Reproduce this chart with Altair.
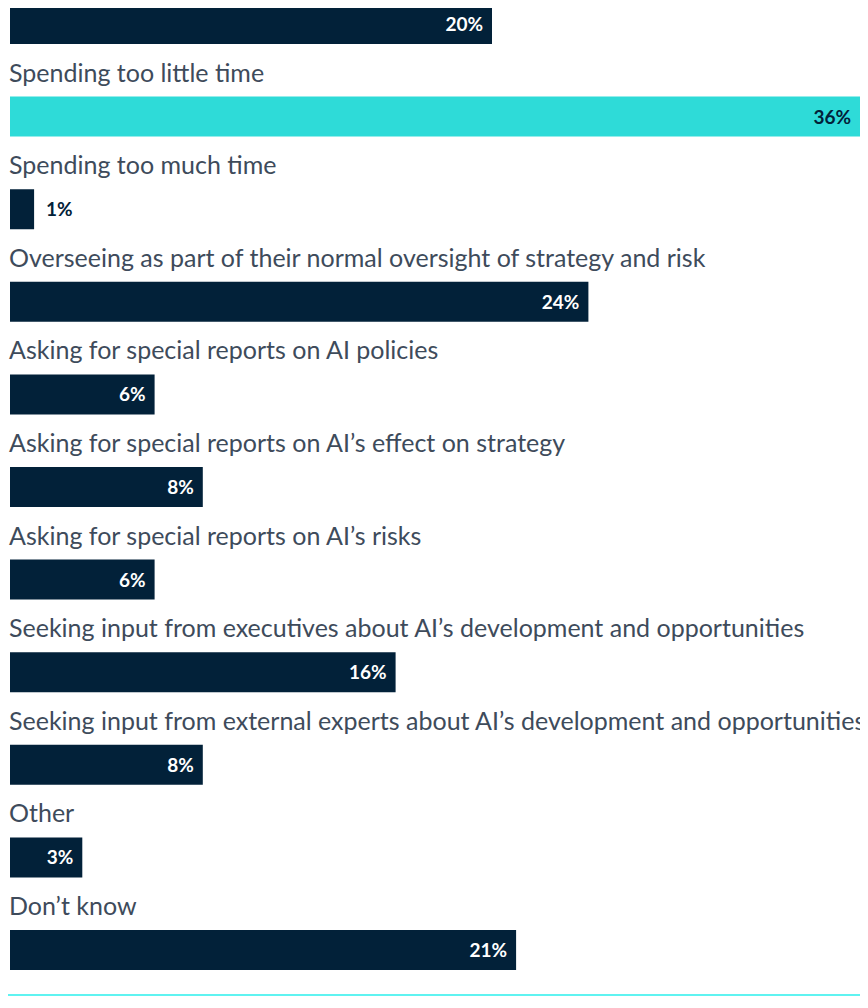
import altair as alt
import pandas as pd

categories = [
    "Spending the right amount of time",
    "Spending too little time",
    "Spending too much time",
    "Overseeing as part of their normal oversight of strategy and risk",
    "Asking for special reports on AI policies",
    "Asking for special reports on AI\u2019s effect on strategy",
    "Asking for special reports on AI\u2019s risks",
    "Seeking input from executives about AI\u2019s development and opportunities",
    "Seeking input from external experts about AI\u2019s development and opportunities",
    "Other",
    "Don\u2019t know",
]
values = [20, 36, 1, 24, 6, 8, 6, 16, 8, 3, 21]
highlight = "Spending too little time"

NAVY = "#022139"
CYAN = "#2EDBD8"
LABEL = "#3E4B5B"
LINE = "#5FF3F1"
FONT = "Lato"

df = pd.DataFrame({"cat": categories, "value": values})
df["label"] = df["value"].astype(str) + "%"
df["hl"] = df["cat"] == highlight

W, H = 852, 988
STEP = 92.6
Y0 = -30.3
PX = 24.1  # pixels per percent

y = alt.Y("cat:N", sort=categories, axis=None,
          scale=alt.Scale(range=[Y0, Y0 + STEP * len(categories)], paddingInner=0, paddingOuter=0))
x = alt.X("value:Q", axis=None, scale=alt.Scale(domain=[0, 36], range=[2, 2 + 36 * PX]))
xmax = (W - 2) / PX
x_text = alt.X("value:Q", axis=None,
               scale=alt.Scale(domain=[0, xmax], range=[2, W], clamp=True))

base = alt.Chart(df)

bars = base.mark_bar(height=40, clip=True).encode(
    x=x, y=y,
    color=alt.condition(alt.datum.hl, alt.value(CYAN), alt.value(NAVY)),
)

cat_text = base.mark_text(align="left", baseline="alphabetic", dy=-35, fontSize=25,
                          font=FONT, color=LABEL, clip=True).encode(
    x=alt.value(1), y=y, text="cat:N")

inside = base.transform_filter(alt.datum.value >= 2).mark_text(
    align="right", baseline="middle", dx=-9, dy=1, fontSize=19, fontWeight="bold",
    font=FONT, clip=True).encode(
    x=x_text, y=y, text="label:N",
    color=alt.condition(alt.datum.hl, alt.value(NAVY), alt.value("white")))

outside = base.transform_filter(alt.datum.value < 2).mark_text(
    align="left", baseline="middle", dx=12, dy=1, fontSize=19, fontWeight="bold",
    font=FONT, color=NAVY, clip=True).encode(x=x_text, y=y, text="label:N")

line = alt.Chart(pd.DataFrame({"a": [0]})).mark_rule(color=LINE, strokeWidth=2).encode(
    x=alt.value(0), x2=alt.value(W), y=alt.value(H - 1))

chart = alt.layer(bars, cat_text, inside, outside, line).resolve_scale(x="independent").properties(
    width=W, height=H,
    autosize=alt.AutoSizeParams(type="none"),
    padding=0,
).configure_view(stroke=None)

chart.save("out.html", embed_options={"renderer": "svg", "actions": False})
